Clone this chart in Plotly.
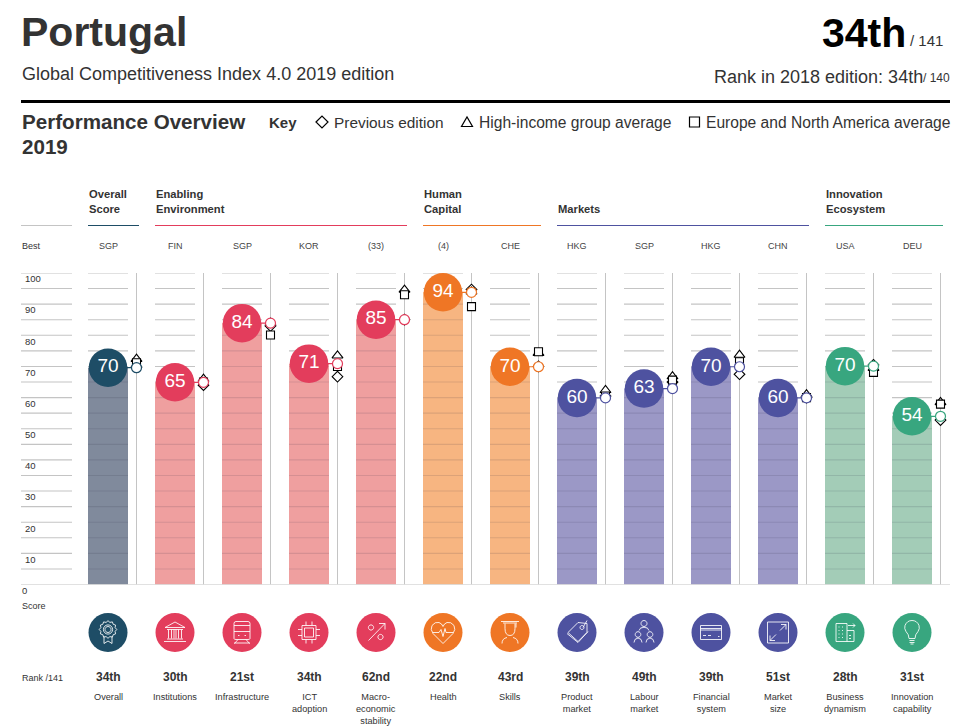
import math
import plotly.graph_objects as go

# ---------- data ----------
pillars = ["Overall", "Institutions", "Infrastructure", "ICT<br>adoption", "Macro-<br>economic<br>stability",
           "Health", "Skills", "Product<br>market", "Labour<br>market", "Financial<br>system",
           "Market<br>size", "Business<br>dynamism", "Innovation<br>capability"]
best = ["SGP", "FIN", "SGP", "KOR", "(33)", "(4)", "CHE", "HKG", "SGP", "HKG", "CHN", "USA", "DEU"]
ranks = ["34th", "30th", "21st", "34th", "62nd", "22nd", "43rd", "39th", "49th", "39th", "51st", "28th", "31st"]
groups = [0, 1, 1, 1, 1, 2, 2, 3, 3, 3, 3, 4, 4]
scores = [70, 65, 84, 71, 85, 94, 70, 60, 63, 70, 60, 70, 54]
score_pos = [69.6, 64.9, 83.9, 70.9, 85.0, 93.8, 69.9, 59.9, 62.9, 69.9, 59.9, 70.1, 54.0]
previous = [69.8, 64.0, 83.0, 66.7, 85.0, 94.7, 70.0, 60.5, 65.0, 67.5, 60.0, 70.5, 52.8]
high_income = [72.4, 66.0, 84.0, 73.5, 94.6, 94.0, 74.3, 62.4, 66.8, 73.7, 61.0, 69.5, 58.5]
europe = [71.2, 65.0, 80.1, 70.0, 93.0, 89.2, 74.7, 60.5, 65.6, 71.5, 60.0, 68.1, 57.9]
group_dark = ["#1e4d66", "#e33d5c", "#ef7625", "#4e52a0", "#38a67f"]
group_bar = ["#808a9c", "#ef9f9f", "#f7b581", "#9b98c6", "#a3ccb7"]
y_ticks = [0, 10, 20, 30, 40, 50, 60, 70, 80, 90, 100]
grid_levels = list(range(5, 101, 5))
group_heads = [("Overall<br>Score", 0, 88, 139), ("Enabling<br>Environment", 1, 155, 407),
               ("Human<br>Capital", 2, 423, 541), ("Markets", 3, 557, 809),
               ("Innovation<br>Ecosystem", 4, 825, 943)]

W, H = 956, 726
FONT = "Liberation Sans"
STEP, X0 = 67.0, 108.0
n = len(scores)
xs = list(range(n))
off = 28.5 / STEP
half = 20 / STEP
Y0_PX, Y100_PX = 584.5, 273.0
GRID = "#c4c4c4"


def px(x):
    return x / W


def py(y):
    return 1 - y / H


fig = go.Figure()
fig.add_trace(go.Bar(x=xs, y=score_pos, width=2 * half, marker=dict(color=[group_bar[g] for g in groups], line_width=0),
                     hoverinfo="skip"))

# grid: pale above each bar and in the left column, subtle over the bar fill
lx0, lx1 = (21 - X0) / STEP, (72 - X0) / STEP
gx, gy, bx, by = [], [], [], []
for v in grid_levels:
    gx += [lx0, lx1, None]
    gy += [v, v, None]
    for i in xs:
        if v < score_pos[i]:
            bx += [i - half, i + half, None]
            by += [v, v, None]
        else:
            gx += [i - half, i + half, None]
            gy += [v, v, None]
fig.add_trace(go.Scatter(x=gx, y=gy, mode="lines", line=dict(color=GRID, width=1.1), hoverinfo="skip"))
fig.add_trace(go.Scatter(x=bx, y=by, mode="lines", line=dict(color="rgba(40,40,60,0.13)", width=1.1), hoverinfo="skip"))
# vertical reference lines
vx, vy = [], []
for i in xs:
    vx += [i + off, i + off, None]
    vy += [0, 100, None]
fig.add_trace(go.Scatter(x=vx, y=vy, mode="lines", line=dict(color=GRID, width=1), hoverinfo="skip"))
# baseline
fig.add_trace(go.Scatter(x=[lx0, (950 - X0) / STEP], y=[0, 0], mode="lines", line=dict(color=GRID, width=1.2),
                         hoverinfo="skip"))

ox = [i + off for i in xs]
for vals, sym, size in ((previous, "diamond", 8.2), (high_income, "triangle-up", 9.5), (europe, "square", 8)):
    fig.add_trace(go.Scatter(x=ox, y=vals, mode="markers", cliponaxis=False, hoverinfo="skip",
                             marker=dict(symbol=sym, size=size, color="white", line=dict(color="black", width=1.1))))

for g in range(5):
    idx = [i for i in xs if groups[i] == g]
    cx, cy = [], []
    for i in idx:
        cx += [i, i + off, None]
        cy += [score_pos[i], score_pos[i], None]
    fig.add_trace(go.Scatter(x=cx, y=cy, mode="lines", line=dict(color=group_dark[g], width=1.2), hoverinfo="skip"))
    fig.add_trace(go.Scatter(x=idx, y=[score_pos[i] for i in idx], mode="markers+text", cliponaxis=False,
                             text=[str(scores[i]) for i in idx], textposition="middle center",
                             textfont=dict(family=FONT, size=19, color="white"), hoverinfo="skip",
                             marker=dict(size=38.5, color=group_dark[g], line_width=0)))
    fig.add_trace(go.Scatter(x=[i + off for i in idx], y=[score_pos[i] for i in idx], mode="markers", cliponaxis=False,
                             hoverinfo="skip",
                             marker=dict(size=10, color="white", line=dict(color=group_dark[g], width=1.2))))

annotations = []


def T(x, y, text, size, color="#333333", anchor="left", xref="paper"):
    annotations.append(dict(x=px(x) if xref == "paper" else x, y=py(y), xref=xref, yref="paper", text=text,
                            showarrow=False, xanchor=anchor, yanchor="middle", align=anchor,
                            font=dict(family=FONT, size=size, color=color), borderpad=0, borderwidth=0))


def TT(x, y, text, size, color="#333333", anchor="left", xref="paper"):
    """Top-anchored multi-line text."""
    annotations.append(dict(x=px(x) if xref == "paper" else x, y=py(y), xref=xref, yref="paper", text=text,
                            showarrow=False, xanchor=anchor, yanchor="top", align="center" if anchor == "center" else anchor,
                            font=dict(family=FONT, size=size, color=color), borderpad=0, borderwidth=0))


T(21, 32, "<b>Portugal</b>", 41, "#333333")
T(22, 74, "Global Competitiveness Index 4.0 2019 edition", 18, "#333333")
T(906, 33, "<b>34th</b>", 41, "#000000", "right")
T(910, 40.5, "/ 141", 15, "#333333")
T(923, 77, "Rank in 2018 edition: 34th", 18, "#333333", "right")
T(923, 78.5, "/ 140", 12, "#333333")
T(22, 121.5, "<b>Performance Overview</b>", 20.6, "#333333")
T(22, 146.5, "<b>2019</b>", 20.6, "#333333")
T(269, 122, "<b>Key</b>", 15, "#333333")
T(334, 122, "Previous edition", 15.4, "#333333")
T(479, 122, "High-income group average", 15.6, "#333333")
T(706, 122, "Europe and North America average", 15.6, "#333333")

for head, g, a, b in group_heads:
    TT(a + 0.5, 209 + 9.5 - 14 * (head.count("<br>") + 1) - 2, "<b>%s</b>" % head, 11.2, "#333333")

T(22, 246.5, "Best", 9, "#333333")
T(22, 590.5, str(y_ticks[0]), 9.5, "#333333")
T(22, 605.5, "Score", 9, "#333333")
T(22, 677.5, "Rank /141", 9, "#333333")
for i in xs:
    T(i, 246.5, best[i], 9, "#444444", "center", "x")
    T(i, 677, "<b>%s</b>" % ranks[i], 12, "#333333", "center", "x")
    TT(i, 691.5, pillars[i], 9.2, "#333333", "center", "x")


def circ(cx, cy, r):
    k = 0.5523 * r
    return (f"M{cx - r},{cy} C{cx - r},{cy + k} {cx - k},{cy + r} {cx},{cy + r} "
            f"C{cx + k},{cy + r} {cx + r},{cy + k} {cx + r},{cy} "
            f"C{cx + r},{cy - k} {cx + k},{cy - r} {cx},{cy - r} "
            f"C{cx - k},{cy - r} {cx - r},{cy - k} {cx - r},{cy} Z ")


def star(cx, cy, r1, r2, k):
    pts = []
    for j in range(2 * k):
        r = r1 if j % 2 == 0 else r2
        a = math.pi * j / k
        pts.append((cx + r * math.cos(a), cy + r * math.sin(a)))
    return "M" + " L".join(f"{a:.1f},{b:.1f}" for a, b in pts) + " Z "


icons = [
    # medal
    star(0, 3, 8.8, 7.3, 12) + circ(0, 3, 4.6) + circ(0, 3, 3) + "M-4,-4 L-4,-11 L0,-8.5 L4,-11 L4,-4 ",
    # institutions
    "M-10,5 L0,10.5 L10,5 Z M-8,3 H8 M-6.5,3 V-6 M-3.5,3 V-6 M-1,3 V-6 M1,3 V-6 M3.5,3 V-6 M6.5,3 V-6 M-8,-6.5 H8 M-11,-9 H11 ",
    # train
    "M-8,-6 L-8,9 Q-8,11 -6,11 L6,11 Q8,11 8,9 L8,-6 Q8,-7 6,-7 L-6,-7 Q-8,-7 -8,-6 Z M-8,7 H8 M-8,1 H8 M-4,-3 H-2.5 M2.5,-3 H4 "
    "M-4,-7 L-7.5,-11 M4,-7 L7.5,-11 M-8,-10.5 H8 ",
    # chip
    "M-7,-7 H7 V7 H-7 Z M-4.5,-4.5 H4.5 V4.5 H-4.5 Z M-3,7 V11 M3,7 V11 M-3,-7 V-11 M3,-7 V-11 M7,3 H11 M7,-3 H11 M-7,3 H-11 M-7,-3 H-11 ",
    # macro
    "M-7.5,-8 L9,9 M3,9 H9 V3 " + circ(-5, 5, 2.6) + circ(4.5, -4.5, 2.6),
    # health
    "M0,-11 L-10,-1 Q-13,3 -11,7 Q-8,11 -4,10 Q-1,9 0,6 Q1,9 4,10 Q8,11 11,7 Q13,3 10,-1 Z M-10,0 H-4 L-2,3 L0,-4 L2,4 L3,0 H10 ",
    # skills
    "M-9,11 H9 M-7,9.5 H7 M-5,9 V4 M5,9 V4 M-5,4 Q-5,-3 0,-3 Q5,-3 5,4 M6,9 V5 M-8,-11 Q-8,-6 -3,-5 M8,-11 Q8,-6 3,-5 ",
    # tag
    "M10,9 L1,10 L-9,0 L1,-9 L10,0 Z M11,1 L1,-10 L-10,-1 M6,5 L10,12 " + circ(5, 5, 2),
    # labour
    circ(0, 9, 3) + circ(-6, -2, 2.8) + circ(6, -2, 2.8) + "M-3,5 L-5,2 M3,5 L5,2 M-10,-10 Q-10,-6 -6,-5.5 Q-2,-6 -2,-10 M2,-10 Q2,-6 6,-5.5 Q10,-6 10,-10 M-3,4.5 Q0,6 3,4.5 ",
    # card
    "M-10.5,-7 H10.5 V7 H-10.5 Z M-10.5,4 H10.5 M-10.5,2.5 H10.5 M-8,-3 H-5 M-3,-3 H0 M7,-4 H8.5 ",
    # size
    "M-10.5,-10.5 H10.5 V10.5 H-10.5 Z M-8,-8 L-2,-2 M-8,-3 V-8 H-3 M2,2 L8,8 M3,8 H8 V3 ",
    # business
    "M-9,-9 H2 V9 H-9 Z M2,-9 H9 V2 H2 M-6.5,5.5 H-5.5 M-3,5.5 H-2 M-6.5,2 H-5.5 M-3,2 H-2 M-6.5,-1.5 H-5.5 M-3,-1.5 H-2 M-6.5,-5 H-5.5 M-3,-5 H-2 "
    "M4,-3 H6 M4,-6 H6 M3,7 H10 M8,9 L10,7 L8,5 ",
    # innovation
    "M-3,-6 Q-3,-2 -6,1 Q-8,4 -7,7 Q-5,12 0,12 Q5,12 7,7 Q8,4 6,1 Q3,-2 3,-6 Z M-2.5,-8 H2.5 M-2.5,-10 H2.5 M-1.5,-11.5 H1.5 ",
]

shapes = []
# horizontal rules
shapes.append(dict(type="line", xref="paper", yref="paper", x0=px(21), x1=px(950), y0=py(101.5), y1=py(101.5),
                   line=dict(color="black", width=3)))
shapes.append(dict(type="line", xref="paper", yref="paper", x0=px(21), x1=px(72), y0=py(225.5), y1=py(225.5),
                   line=dict(color=GRID, width=1)))
for head, g, a, b in group_heads:
    shapes.append(dict(type="line", xref="paper", yref="paper", x0=px(a), x1=px(b), y0=py(225.5), y1=py(225.5),
                       line=dict(color=group_dark[g], width=1)))

ICON_Y = 632.5
for i in xs:
    shapes.append(dict(type="circle", xref="x", yref="paper", xsizemode="pixel", ysizemode="pixel", xanchor=i,
                       yanchor=py(ICON_Y), x0=-19.5, x1=19.5, y0=-19.5, y1=19.5,
                       fillcolor=group_dark[groups[i]], line_width=0))
    shapes.append(dict(type="path", xref="x", yref="paper", xsizemode="pixel", ysizemode="pixel", xanchor=i,
                       yanchor=py(ICON_Y), path=icons[i], line=dict(color="rgba(255,255,255,0.85)", width=1)))

# key markers
KEY_Y = 122
for xk, path in ((322, "M-6,0 L0,6 L6,0 L0,-6 Z"), (467, "M-5.5,-4.5 H5.5 L0,5 Z"), (694.5, "M-5,-5 H5 V5 H-5 Z")):
    shapes.append(dict(type="path", xref="paper", yref="paper", xsizemode="pixel", ysizemode="pixel", xanchor=px(xk),
                       yanchor=py(KEY_Y), path=path, line=dict(color="black", width=1.2), fillcolor="white"))

fig.update_layout(
    width=W, height=H, margin=dict(l=0, r=0, t=0, b=0), showlegend=False,
    paper_bgcolor="white", plot_bgcolor="rgba(0,0,0,0)", barmode="overlay",
    xaxis=dict(range=[-X0 / STEP, (W - X0) / STEP], domain=[0, 1], visible=False, fixedrange=True),
    yaxis=dict(range=[0, 100], domain=[1 - Y0_PX / H, 1 - Y100_PX / H], anchor="free", position=px(21),
               tickvals=y_ticks[1:], ticktext=[str(v) for v in y_ticks[1:]], showgrid=False, zeroline=False,
               showline=False, ticks="", ticklabelposition="inside", ticklabelshift=6,
               tickfont=dict(family=FONT, size=9.5, color="#333333"), fixedrange=True),
    annotations=annotations, shapes=shapes, hovermode=False,
)

fig.write_html("out.html", config=dict(displayModeBar=False),
               post_script="document.body.style.margin='0';document.body.style.overflow='hidden';")
